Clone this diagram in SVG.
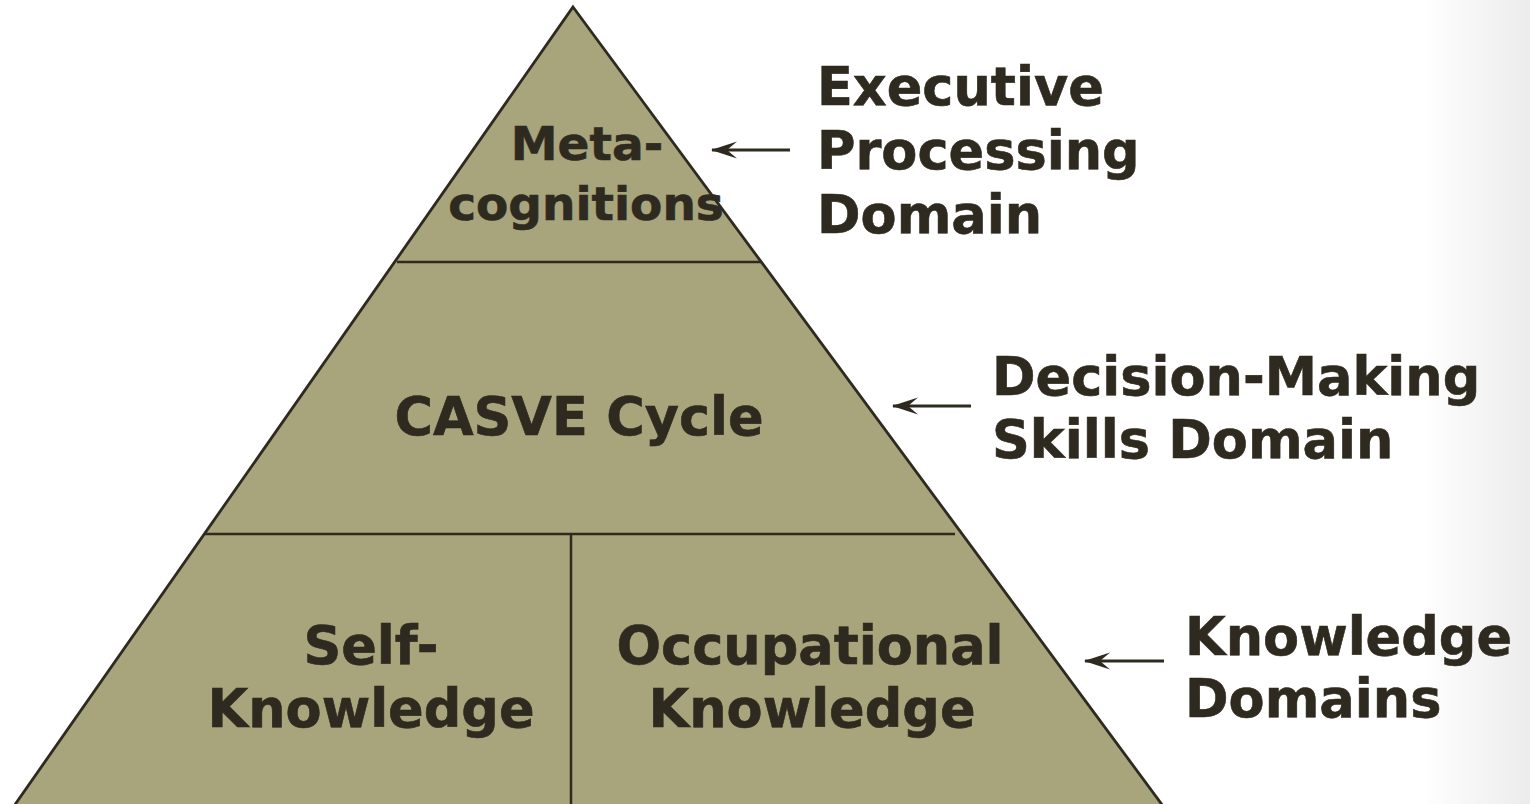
<svg xmlns="http://www.w3.org/2000/svg" width="1530" height="804" viewBox="0 0 1530 804">
<defs>
<linearGradient id="bg" x1="0" y1="0" x2="1" y2="0">
<stop offset="0" stop-color="#ffffff"/>
<stop offset="1" stop-color="#ececec"/>
</linearGradient>
<marker id="ah" viewBox="0 0 28 20" refX="1" refY="10" markerWidth="28" markerHeight="20" markerUnits="userSpaceOnUse" orient="auto">
<path d="M0,10 L26,1.5 L16,10 L26,18.5 Z" fill="#2e2a20"/>
</marker>
<style>
.t{font-family:"DejaVu Sans",Verdana,sans-serif;font-weight:bold;font-size:52.5px;fill:#2e2a1f;stroke:#2e2a1f;stroke-width:0.6}
.s{font-size:47px}
.m{text-anchor:middle}
.ln{stroke:#2e2a20;stroke-width:2.5;fill:none}
.ar{stroke:#2e2a20;stroke-width:2.8;fill:none;marker-start:url(#ah)}
</style>
</defs>
<rect x="0" y="0" width="1530" height="804" fill="#ffffff"/>
<rect x="1420" y="0" width="110" height="804" fill="url(#bg)"/>
<g id="pyramid">
<path d="M573,7 L1163,806 L14,806 Z" fill="#a8a47c" stroke="#2e2a20" stroke-width="2.8" stroke-linejoin="miter"/>
<line class="ln" x1="397" y1="262" x2="762" y2="262"/>
<line class="ln" x1="205" y1="534" x2="955" y2="534"/>
<line class="ln" x1="571" y1="535" x2="571" y2="804"/>
</g>
<g id="meta">
<text class="t s m" x="587" y="160">Meta-</text>
<text class="t s m" x="586" y="220">cognitions</text>
</g>
<g id="casve">
<text class="t m" x="579" y="435">CASVE Cycle</text>
</g>
<g id="self">
<text class="t m" x="371" y="664">Self-</text>
<text class="t m" x="371" y="727">Knowledge</text>
</g>
<g id="occ">
<text class="t m" x="810" y="664">Occupational</text>
<text class="t m" x="812" y="727">Knowledge</text>
</g>
<g id="exec">
<text class="t" x="817" y="105">Executive</text>
<text class="t" x="817" y="169">Processing</text>
<text class="t" x="817" y="233">Domain</text>
</g>
<g id="dm">
<text class="t" x="992" y="395">Decision-Making</text>
<text class="t" x="992" y="458">Skills Domain</text>
</g>
<g id="kd">
<text class="t" x="1185" y="655">Knowledge</text>
<text class="t" x="1185" y="717">Domains</text>
</g>
<g id="connectors">
<line class="ar" x1="712" y1="150" x2="790" y2="150"/>
<line class="ar" x1="893" y1="406" x2="971" y2="406"/>
<line class="ar" x1="1085" y1="661" x2="1164" y2="661"/>
</g>
</svg>
